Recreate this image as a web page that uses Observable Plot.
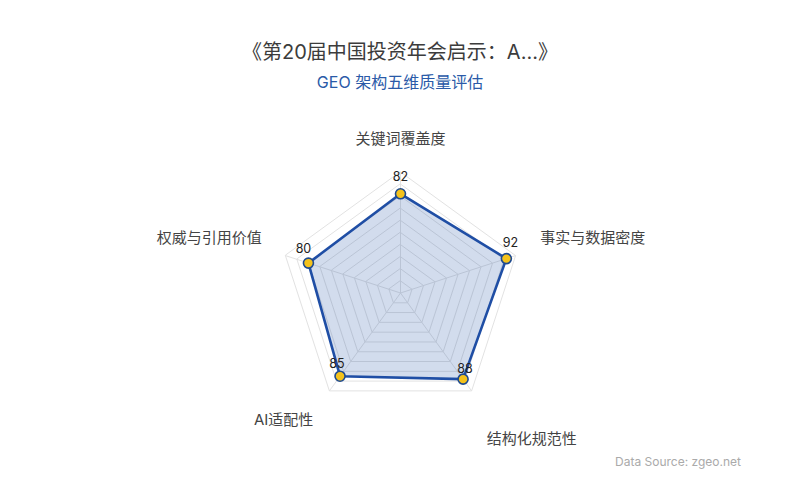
<!DOCTYPE html>
<html>
<head>
<meta charset="utf-8">
<script src="https://cdn.jsdelivr.net/npm/d3@7"></script>
<script src="https://cdn.jsdelivr.net/npm/@observablehq/plot@0.6"></script>
<style>
  html, body { margin: 0; padding: 0; background: #fff; }
  body { width: 800px; height: 500px; position: relative; overflow: hidden;
         font-family: Inter, "Noto Sans CJK SC", "Noto Sans", sans-serif; }
  #title { position: absolute; left: 0; width: 800px; top: 38px; text-align: center;
           font-size: 20px; font-weight: 400; line-height: 28px; color: #3c3c3c; }
  #subtitle { position: absolute; left: 0; width: 800px; top: 70px; text-align: center;
              font-size: 16px; font-weight: 400; line-height: 24px; color: #2a5aa8; }
  #chart { position: absolute; left: 0; top: 100px; }
  #source { position: absolute; right: 59px; top: 453px; font-size: 12px; line-height: 18px; color: #aaa; }
</style>
</head>
<body>
<div id="title"></div>
<div id="subtitle"></div>
<div id="chart"></div>
<div id="source"></div>
<script>
const titleText = "《第20届中国投资年会启示：A...》";
const subtitleText = "GEO 架构五维质量评估";
const sourceText = "Data Source: zgeo.net";
const dimensions = ["关键词覆盖度", "事实与数据密度", "结构化规范性", "AI适配性", "权威与引用价值"];
const scores = [82, 92, 88, 85, 80];
const maxScore = 100;
const ringLevels = [10, 20, 30, 40, 50, 60, 70, 80, 90, 100];

document.getElementById("title").textContent = titleText;
document.getElementById("subtitle").textContent = subtitleText;
document.getElementById("source").textContent = sourceText;

const n = dimensions.length;
const angle = i => (Math.PI / 2) - i * 2 * Math.PI / n;
const px = (v, i) => v * Math.cos(angle(i));
const py = (v, i) => v * Math.sin(angle(i));

const rings = ringLevels.flatMap(level => dimensions.map((d, i) => ({level, x: px(level, i), y: py(level, i)})));
const spokes = dimensions.map((d, i) => ({x1: 0, y1: 0, x2: px(maxScore, i), y2: py(maxScore, i)}));
const points = dimensions.map((d, i) => ({name: d, value: scores[i], x: px(scores[i], i), y: py(scores[i], i), i}));

const labelRadius = 124;
const labelAnchor = ["middle", "start", "start", "end", "end"];
const labelDx = [0, -3, -2, 1, 4];
const labelDy = [-4, -8, 25, 6, -8];
const labels = dimensions.map((d, i) => ({name: d, x: px(labelRadius, i), y: py(labelRadius, i), i}));

const valueDx = [0, 4, 2, -3, -5];
const valueDy = [-17, -16, -10, -12, -14];

const k = 1.21;
const W = 800, H = 400, cx = 400, cy = 192.5;

const blue = "#1f4ea5";

const marks = [
  Plot.line(rings, {x: "x", y: "y", z: "level", curve: "linear-closed", stroke: "#e2e2e2", strokeWidth: 1}),
  Plot.link(spokes, {x1: "x1", y1: "y1", x2: "x2", y2: "y2", stroke: "#e2e2e2", strokeWidth: 1}),
  Plot.line(points, {x: "x", y: "y", curve: "linear-closed", fill: blue, fillOpacity: 0.2, stroke: blue, strokeWidth: 2.6, strokeLinejoin: "round"}),
  Plot.dot(points, {x: "x", y: "y", r: 5, fill: "#f4c21b", stroke: "#1e4a8f", strokeWidth: 1.6}),
  ...points.map(p => Plot.text([p], {x: "x", y: "y", text: d => String(d.value), dx: valueDx[p.i], dy: valueDy[p.i], fill: "#222", fontSize: 12.5})),
  ...labels.map(l => Plot.text([l], {x: "x", y: "y", text: "name", textAnchor: labelAnchor[l.i], dx: labelDx[l.i], dy: labelDy[l.i], fill: "#444", fontSize: 15}))
];

const chart = Plot.plot({
  width: W,
  height: H,
  margin: 0,
  x: {domain: [-cx / k, (W - cx) / k], axis: null},
  y: {domain: [-(H - cy) / k, cy / k], axis: null},
  style: {fontFamily: 'Inter, "Noto Sans CJK SC", "Noto Sans", sans-serif', background: "transparent"},
  marks
});
document.getElementById("chart").appendChild(chart);
</script>
</body>
</html>
